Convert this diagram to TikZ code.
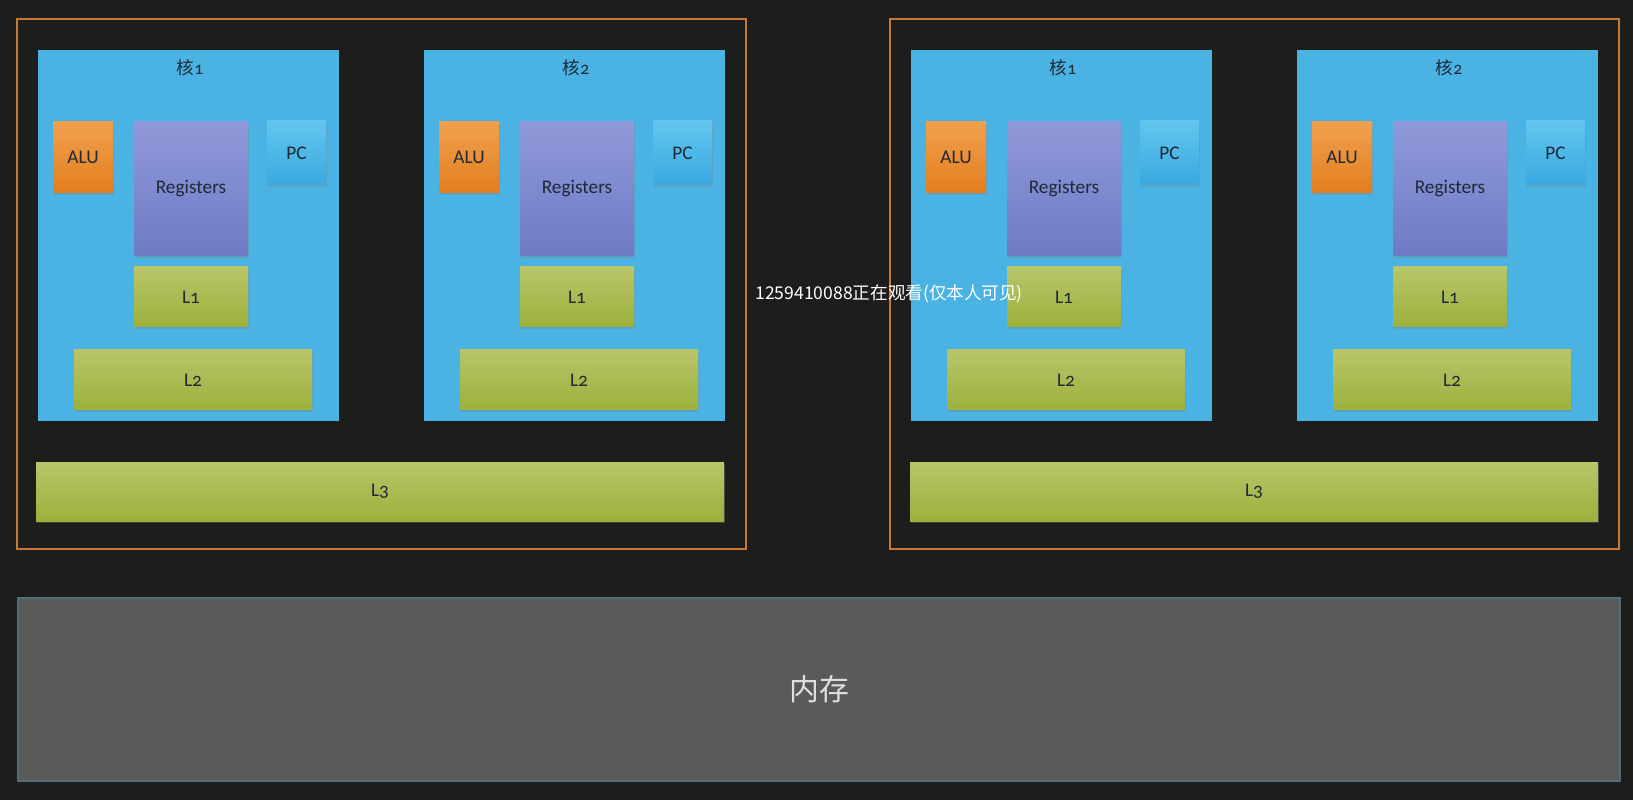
\documentclass[tikz,border=0pt]{standalone}
\usepackage{fontspec}
\setmainfont{Carlito}[Numbers=OldStyle]
\newfontfamily\cjk{Noto Sans CJK SC}
\usetikzlibrary{shadows}

% --- 颜色 ---
\definecolor{board}{HTML}{1D1D1C}
\definecolor{chipline}{HTML}{C47A34}
\definecolor{corebg}{HTML}{4BB3E3}
\definecolor{alutop}{HTML}{F1A04E}
\definecolor{alubot}{HTML}{E27E1E}
\definecolor{regtop}{HTML}{9099D9}
\definecolor{regbot}{HTML}{6E7AC4}
\definecolor{pctop}{HTML}{62C5EF}
\definecolor{pcbot}{HTML}{39A9DF}
\definecolor{cachetop}{HTML}{B8C569}
\definecolor{cachebot}{HTML}{9DB03C}
\definecolor{memfill}{HTML}{5A5B59}
\definecolor{memline}{HTML}{4E6F7D}
\definecolor{ink}{HTML}{1E2A36}

% 1 像素对应的长度
\def\px{0.02cm}

\tikzset{
  blk/.style 2 args={anchor=north west, inner sep=0pt, outer sep=0pt,
    minimum width=#1*\px, minimum height=#2*\px},
  part/.style={font=\fontsize{11}{13}\selectfont, text=ink,
    drop shadow={shadow xshift=0.8pt, shadow yshift=-1.2pt, opacity=0.35}},
  corebox/.style={fill=corebg},
  alu/.style={part, top color=alutop, bottom color=alubot},
  regs/.style={part, top color=regtop, bottom color=regbot},
  pc/.style={part, top color=pctop, bottom color=pcbot},
  cache/.style={part, top color=cachetop, bottom color=cachebot},
  chip/.style={draw=chipline, line width=0.8pt},
  title/.style={font=\fontsize{10}{12}\selectfont, text=ink},
}

% --- 一个核: #1 名字, #2 左边 x, #3 编号 ---
\newcommand{\cpucore}[3]{%
  \node[corebox, blk={301}{371}] (#1) at (#2,50) {};
  \node[title] (#1-t) at (#2+152,68) {{\cjk 核}#3};
  \node[alu, blk={60}{71}] (#1-alu) at (#2+15,122) {ALU};
  \node[regs, blk={114}{134}] (#1-reg) at (#2+96,122) {Registers};
  \node[pc, blk={59}{64}] (#1-pc) at (#2+229,121) {PC};
  \node[cache, blk={114}{60}] (#1-l1) at (#2+96,267) {L1};
  \node[cache, blk={238}{60}] (#1-l2) at (#2+36,350) {L2};
}

\begin{document}
\begin{tikzpicture}[x=\px, y=-\px] % 坐标按像素写, y 向下

    % --- 背景 ---
    \useasboundingbox (0,0) rectangle (1633,800);
    \fill[board] (0,0) rectangle (1633,800);

    % --- 1. 两个 CPU ---
    \node[chip, blk={729}{530}] (chipA) at (17,19) {};
    \node[chip, blk={729}{530}] (chipB) at (890,19) {};

    \cpucore{a1}{38}{1}
    \cpucore{a2}{424}{2}
    \cpucore{b1}{911}{1}
    \cpucore{b2}{1297}{2}

    % (a) 共享的 L3
    \node[cache, blk={688}{59}] (chipA-l3) at (36,462) {L3};
    \node[cache, blk={688}{59}] (chipB-l3) at (910,462) {L3};

    % --- 2. 内存 ---
    \node[blk={1602}{183}, fill=memfill, draw=memline, line width=1.2pt,
      text=white!88!black, font=\cjk\fontsize{17}{20}\selectfont] (mem) at (18,598) {内存};

    % --- 3. 观看提示 ---
    \node[anchor=west, inner sep=0pt, text=white, font=\cjk\fontsize{10}{12}\selectfont]
      (watch) at (755,294) {1259410088正在观看(仅本人可见)};

\end{tikzpicture}
\end{document}
